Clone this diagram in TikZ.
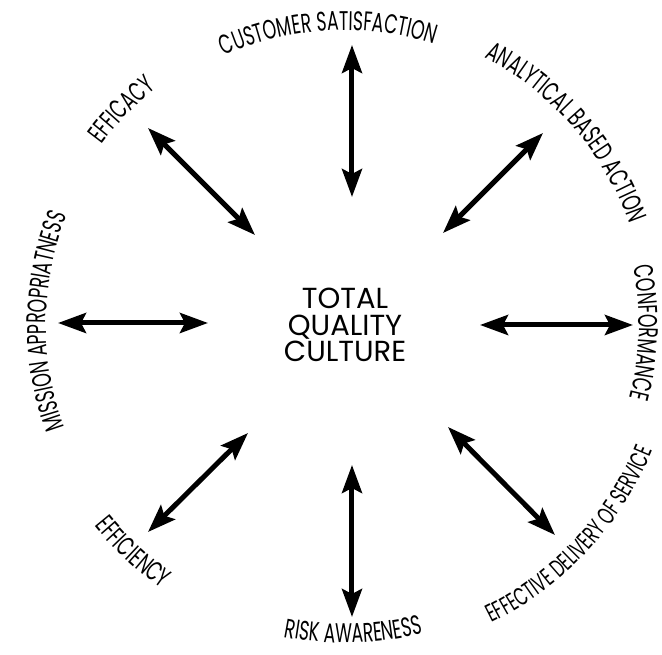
\documentclass[tikz,border=0pt]{standalone}
\usepackage{fontspec}
\setmainfont{Poppins}
\newfontfamily\labelfam[FakeStretch=0.64]{Poppins}
\newcommand\lblfont{\labelfam\fontsize{27}{27}\selectfont}
\newcommand\lblfontsmall{\labelfam\fontsize{25}{25}\selectfont}
\usetikzlibrary{arrows.meta,decorations.text}
\begin{document}
\begin{tikzpicture}[x=1pt,y=1pt,
  tip/.tip={Stealth[length=28pt,width=20pt,inset=5pt]},
  biarrow/.style={line width=5pt,tip-tip},
  curvetext/.style={decorate,decoration={text along path,text align=center,text={|\lblfont|#1}}},
  curvetextsmall/.style={decorate,decoration={text along path,text align=center,text={|\lblfontsmall|#1}}}]
\useasboundingbox (-345,-330) rectangle (317,325);
% centre
\node[align=center,font=\fontsize{29}{26.5}\selectfont,inner sep=0pt] (tqc) at (0,0) {TOTAL\\QUALITY\\CULTURE};
% arrow end points
\coordinate (n1) at (7,280);     \coordinate (n2) at (7,128);
\coordinate (ne1) at (198,192);  \coordinate (ne2) at (98,92);
\coordinate (e1) at (288,0);     \coordinate (e2) at (135,0);
\coordinate (se1) at (210,-210); \coordinate (se2) at (103,-102);
\coordinate (s1) at (7,-292);    \coordinate (s2) at (7,-140);
\coordinate (sw1) at (-197,-207);\coordinate (sw2) at (-97,-108);
\coordinate (w1) at (-287,2);    \coordinate (w2) at (-137,2);
\coordinate (nw1) at (-197,197); \coordinate (nw2) at (-90,90);
\foreach \d in {n,ne,e,se,s,sw,w,nw}
  \draw[biarrow] (\d1) -- (\d2);
% labels, clockwise (letters outward)
\path[curvetext={CUSTOMER SATISFACTION}] (133.3:295) arc[start angle=133.3,end angle=53.3,radius=295];
\path[curvetext={ANALYTICAL BASED ACTION}] (81:302) arc[start angle=81,end angle=1,radius=302];
\path[curvetext={CONFORMANCE}] (38.5:294) arc[start angle=38.5,end angle=-41.5,radius=294];
\path[curvetext={MISSION APPROPRIATNESS}] (219.3:299) arc[start angle=219.3,end angle=139.3,radius=299];
\path[curvetext={EFFICACY}] (176:303) arc[start angle=176,end angle=96,radius=303];
% labels, counter-clockwise (letters inward)
\path[curvetextsmall={EFFECTIVE DELIVERY OF SERVICE}] (-83:332) arc[start angle=-83,end angle=-3,radius=332];
\path[curvetext={RISK AWARENESS}] (-128.4:318) arc[start angle=-128.4,end angle=-48.4,radius=318];
\path[curvetext={EFFICIENCY}] (-173:321) arc[start angle=-173,end angle=-93,radius=321];
\end{tikzpicture}
\end{document}
